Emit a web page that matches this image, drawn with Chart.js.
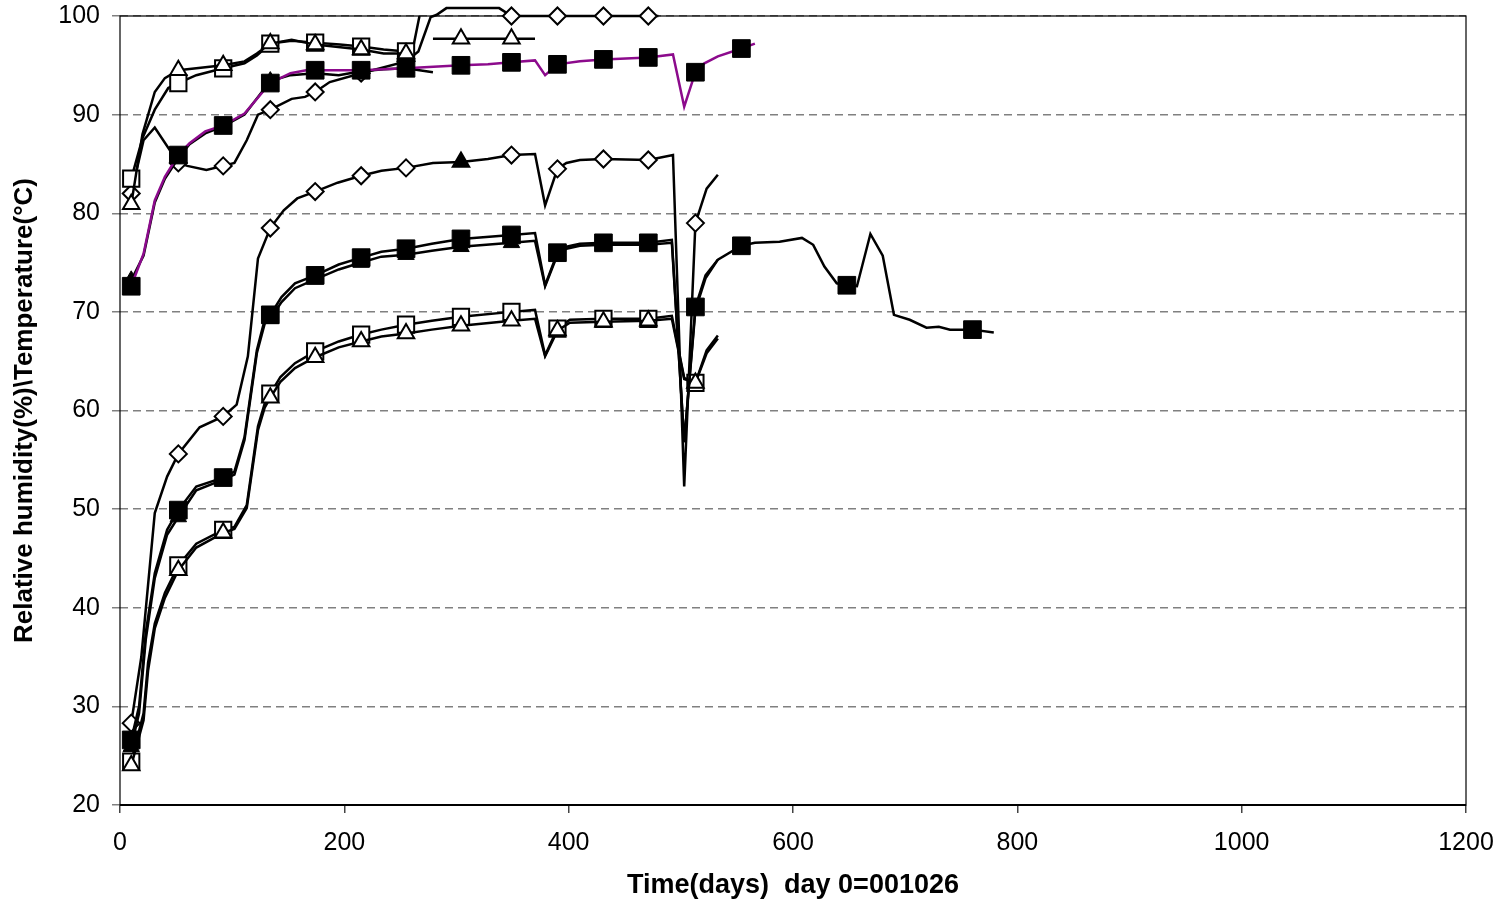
<!DOCTYPE html>
<html>
<head>
<meta charset="utf-8">
<script src="https://cdn.jsdelivr.net/npm/chart.js@4.4.0/dist/chart.umd.min.js"></script>
<style>
  html, body { margin: 0; padding: 0; background: #fff; }
  #wrap { width: 1503px; height: 905px; }
</style>
</head>
<body>
<div id="wrap"><canvas id="chart" width="1503" height="905"></canvas></div>
<script>
// tick labels
const xTicks = [0, 200, 400, 600, 800, 1000, 1200];
const yTicks = [20, 30, 40, 50, 60, 70, 80, 90, 100];

// upper group
const upFilledSqDays = [10, 21, 31, 40, 52, 62, 76, 92, 111, 134, 152, 166, 174, 215, 255, 304, 328, 349, 370, 379, 390, 410, 431, 471, 493, 503, 513, 521, 533, 554, 566];
const upFilledSqVals = [72.6, 75.9, 81.3, 83.7, 85.9, 87.1, 88.3, 88.9, 90.1, 93.2, 94.2, 94.5, 94.5, 94.5, 94.7, 95.0, 95.1, 95.3, 95.5, 94.0, 95.1, 95.4, 95.6, 95.8, 96.1, 90.8, 94.3, 95.2, 95.9, 96.7, 97.2];
const upFilledSqMarks = [10, 52, 92, 134, 174, 215, 255, 304, 349, 390, 431, 471, 513, 554];

const upFilledTriDays = [10, 21, 31, 40, 52, 62, 76, 92, 111, 134, 152, 174, 195, 215, 235, 255, 279];
const upFilledTriVals = [73.2, 75.7, 81.1, 83.5, 85.6, 87.0, 88.1, 88.8, 90.0, 93.4, 94.0, 94.2, 94.0, 94.4, 94.6, 94.7, 94.3];
const upFilledTriMarks = [10, 52, 92, 134, 174, 215, 255];

const upDiamondDays = [10, 21, 31, 52, 60, 77, 92, 102, 113, 123, 134, 153, 165, 174, 187, 215, 255, 266, 277, 282, 291, 338, 349, 390, 431, 471, 480];
const upDiamondVals = [82.0, 87.4, 88.7, 85.1, 84.8, 84.4, 84.8, 85.1, 87.4, 90.0, 90.5, 91.6, 91.8, 92.3, 93.3, 94.2, 95.4, 96.4, 99.9, 100.1, 100.8, 100.8, 100, 100, 100, 100, 100];
const upDiamondMarks = [10, 52, 92, 134, 174, 215, 255, 349, 390, 431, 471];

const upSquareDays = [10, 20, 31, 43, 52, 68, 92, 111, 122, 134, 153, 174, 196, 215, 235, 255, 261, 267];
const upSquareVals = [83.5, 87.6, 90.5, 92.7, 93.2, 94.0, 94.7, 95.2, 96.0, 97.2, 97.5, 97.3, 97.1, 96.9, 96.6, 96.4, 96.6, 100];
const upSquareMarks = [10, 52, 92, 134, 174, 215, 255];

const upTriangleDays = [10, 20, 31, 40, 52, 68, 92, 111, 122, 134, 153, 174, 215, 235, 255, 267, 279, 304, 349, 370];
const upTriangleVals = [80.9, 88.0, 92.3, 93.7, 94.5, 94.7, 95.0, 95.4, 96.2, 97.2, 97.6, 97.1, 96.6, 96.2, 96.2, null, 97.7, 97.7, 97.7, 97.7];
const upTriangleMarks = [10, 52, 92, 134, 174, 215, 255, 304, 349];

// lower group
const lowDiamondDays = [10, 19, 31, 42, 52, 71, 92, 104, 114, 123, 134, 146, 158, 174, 194, 215, 233, 255, 279, 304, 328, 349, 370, 379, 390, 398, 410, 431, 471, 493, 503, 513, 523, 533];
const lowDiamondVals = [28.3, 35.0, 49.6, 53.3, 55.6, 58.3, 59.4, 60.6, 65.5, 75.4, 78.5, 80.3, 81.5, 82.2, 83.1, 83.8, 84.3, 84.6, 85.1, 85.2, 85.5, 85.9, 86.0, 80.8, 84.5, 85.1, 85.4, 85.5, 85.4, 85.9, 52.3, 79.0, 82.5, 83.9];
const lowDiamondMarks = [10, 52, 92, 134, 174, 215, 255, 304, 349, 390, 431, 471, 513];
const lowDiamondTriAt = [304];

const lowFilledSqDays = [10, 17, 23, 31, 42, 52, 68, 92, 102, 111, 122, 129, 134, 144, 156, 174, 195, 215, 233, 255, 278, 304, 349, 370, 379, 390, 398, 410, 431, 471, 492, 503, 513, 522, 533, 554, 566, 588, 608, 618, 628, 639, 648, 657, 669, 680, 690, 704, 719, 730, 740, 760, 779];
const lowFilledSqVals = [26.6, 30.0, 37.5, 43.5, 47.9, 49.9, 52.3, 53.2, 53.8, 57.3, 66.1, 69.2, 69.7, 71.5, 72.9, 73.7, 74.8, 75.5, 76.1, 76.4, 76.9, 77.4, 77.8, 78.0, 72.7, 76.0, 76.6, 76.9, 77.0, 77.0, 77.3, 56.8, 70.5, 73.7, 75.3, 76.7, 77.0, 77.1, 77.5, 76.8, 74.6, 72.9, 72.7, 72.6, 77.9, 75.7, 69.7, 69.2, 68.4, 68.5, 68.2, 68.2, 67.9];
const lowFilledSqMarks = [10, 52, 92, 134, 174, 215, 255, 304, 349, 390, 431, 471, 513, 554, 648, 760];

const lowFilledTriDays = [10, 17, 23, 31, 42, 52, 68, 92, 102, 111, 122, 129, 134, 144, 156, 174, 195, 215, 233, 255, 278, 304, 349, 370, 379, 390, 398, 410, 431, 471, 492, 503, 513, 522, 533];
const lowFilledTriVals = [25.9, 29.3, 36.8, 43.0, 47.4, 49.2, 51.9, 53.0, 53.5, 57.0, 65.8, 68.8, 69.3, 71.0, 72.4, 73.3, 74.3, 75.0, 75.6, 75.8, 76.2, 76.6, 77.0, 77.2, 72.6, 75.8, 76.4, 76.7, 76.8, 76.8, 77.0, 56.8, 70.2, 73.4, 75.3];
const lowFilledTriMarks = [10, 52, 92, 134, 174, 215, 255, 304, 349];

const lowSquareDays = [10, 21, 25, 31, 40, 52, 68, 92, 102, 113, 123, 129, 134, 143, 156, 174, 195, 215, 233, 255, 278, 304, 349, 370, 379, 390, 401, 431, 471, 492, 503, 513, 523, 533];
const lowSquareVals = [24.4, 29.3, 34.4, 38.4, 41.5, 44.3, 46.5, 47.9, 48.2, 50.4, 58.4, 60.7, 61.7, 63.4, 64.8, 66.0, 67.0, 67.7, 68.2, 68.7, 69.1, 69.5, 70.0, 70.2, 65.6, 68.3, 69.2, 69.3, 69.3, 69.6, 63.3, 62.8, 66.1, 67.6];
const lowSquareMarks = [10, 52, 92, 134, 174, 215, 255, 304, 349, 390, 431, 471, 513];

const lowTriangleDays = lowSquareDays;
const lowTriangleVals = [24.0, 28.6, 33.6, 37.9, 41.0, 43.8, 46.1, 47.6, 48.0, 50.1, 58.0, 60.3, 61.3, 62.9, 64.3, 65.4, 66.4, 67.0, 67.5, 67.8, 68.2, 68.6, 69.1, 69.3, 65.5, 68.1, 68.9, 69.0, 69.1, 69.3, 63.2, 62.8, 65.8, 67.3];
const lowTriangleMarks = [10, 52, 92, 134, 174, 215, 255, 304, 349, 390, 431, 471, 513];

const FONT = '"Liberation Sans", Arial, sans-serif';

const markerKinds = {
  filledSq: { style: 'rect', radius: 12.5, fill: '#000', border: 1 },
  openSq: { style: 'rect', radius: 11.5, fill: '#fff', border: 2 },
  filledTri: { style: 'triangle', radius: 9.5, fill: '#000', border: 1 },
  openTri: { style: 'triangle', radius: 9.5, fill: '#fff', border: 2 },
  diamond: { style: 'rectRot', radius: 8.5, fill: '#fff', border: 2 },
};

function makeSeries(label, days, vals, marks, kind, color, extra) {
  const m = markerKinds[kind];
  const triAt = (extra && extra.triAt) || [];
  const isTri = (ctx) => ctx.raw && triAt.includes(ctx.raw.x);
  return {
    label: label,
    data: days.map((d, i) => ({ x: d, y: vals[i] })),
    borderColor: color,
    borderWidth: 2.5,
    tension: 0,
    spanGaps: false,
    clip: false,
    pointStyle: (ctx) => isTri(ctx) ? 'triangle' : m.style,
    pointRadius: (ctx) => {
      if (!ctx.raw || !marks.includes(ctx.raw.x)) return 0;
      return isTri(ctx) ? 9.5 : m.radius;
    },
    pointBackgroundColor: (ctx) => isTri(ctx) ? '#000' : m.fill,
    pointBorderColor: '#000',
    pointBorderWidth: m.border,
    pointHoverRadius: 0,
  };
}

// first in list is drawn on top
const datasets = [
  makeSeries('up filled square', upFilledSqDays, upFilledSqVals, upFilledSqMarks, 'filledSq', '#8c0a8c'),
  makeSeries('low filled square', lowFilledSqDays, lowFilledSqVals, lowFilledSqMarks, 'filledSq', '#000'),
  makeSeries('up filled triangle', upFilledTriDays, upFilledTriVals, upFilledTriMarks, 'filledTri', '#000'),
  makeSeries('low filled triangle', lowFilledTriDays, lowFilledTriVals, lowFilledTriMarks, 'filledTri', '#000'),
  makeSeries('up triangle', upTriangleDays, upTriangleVals, upTriangleMarks, 'openTri', '#000'),
  makeSeries('low triangle', lowTriangleDays, lowTriangleVals, lowTriangleMarks, 'openTri', '#000'),
  makeSeries('up square', upSquareDays, upSquareVals, upSquareMarks, 'openSq', '#000'),
  makeSeries('low square', lowSquareDays, lowSquareVals, lowSquareMarks, 'openSq', '#000'),
  makeSeries('up diamond', upDiamondDays, upDiamondVals, upDiamondMarks, 'diamond', '#000'),
  makeSeries('low diamond', lowDiamondDays, lowDiamondVals, lowDiamondMarks, 'diamond', '#000', { triAt: lowDiamondTriAt }),
];

const frame = {
  id: 'frame',
  beforeDatasetsDraw(chart) {
    const { ctx, chartArea: a } = chart;
    ctx.save();
    ctx.strokeStyle = '#000';
    ctx.lineWidth = 1.2;
    ctx.setLineDash([]);
    ctx.strokeRect(a.left, a.top, a.right - a.left, a.bottom - a.top);
    ctx.lineWidth = 2.2;
    ctx.beginPath();
    ctx.moveTo(a.left, a.bottom);
    ctx.lineTo(a.right, a.bottom);
    ctx.stroke();
    ctx.restore();
  }
};

new Chart(document.getElementById('chart'), {
  type: 'line',
  data: { datasets: datasets },
  options: {
    responsive: false,
    animation: false,
    events: [],
    layout: { padding: { top: 16, right: 37, left: 0, bottom: 0 } },
    plugins: { legend: { display: false }, tooltip: { enabled: false } },
    scales: {
      x: {
        type: 'linear',
        min: xTicks[0],
        max: xTicks[xTicks.length - 1],
        afterBuildTicks: (s) => { s.ticks = xTicks.map(v => ({ value: v })); },
        ticks: { font: { family: FONT, size: 25 }, color: '#000', padding: 15, maxRotation: 0, callback: v => String(v) },
        grid: { drawOnChartArea: false, tickLength: 8, color: '#444', lineWidth: 1.5 },
        border: { display: false },
        title: {
          display: true,
          text: 'Time(days)  day 0=001026',
          color: '#000',
          font: { family: FONT, size: 27, weight: 'bold' },
          padding: { top: 0, bottom: 3 }
        },
        afterFit: (s) => {
          s.height = 100;
          s.paddingLeft = 0;
          s.paddingRight = 0;
        }
      },
      y: {
        min: yTicks[0],
        max: yTicks[yTicks.length - 1],
        afterBuildTicks: (s) => { s.ticks = yTicks.map(v => ({ value: v })); },
        ticks: { font: { family: FONT, size: 25 }, color: '#000', padding: 12, callback: v => String(v) },
        grid: {
          color: '#808080', lineWidth: 1.5, tickLength: 8,
          tickColor: '#808080', tickBorderDash: [], borderDash: [8, 5]
        },
        border: { display: false, dash: [8, 5] },
        title: {
          display: true,
          text: 'Relative humidity(%)\\Temperature(°C)',
          color: '#000',
          font: { family: FONT, size: 26, weight: 'bold' },
          padding: { top: 9, bottom: 0 }
        },
        afterFit: (s) => {
          s.width = 120;
          s.paddingTop = 0;
          s.paddingBottom = 0;
        }
      }
    }
  },
  plugins: [frame]
});
</script>
</body>
</html>
